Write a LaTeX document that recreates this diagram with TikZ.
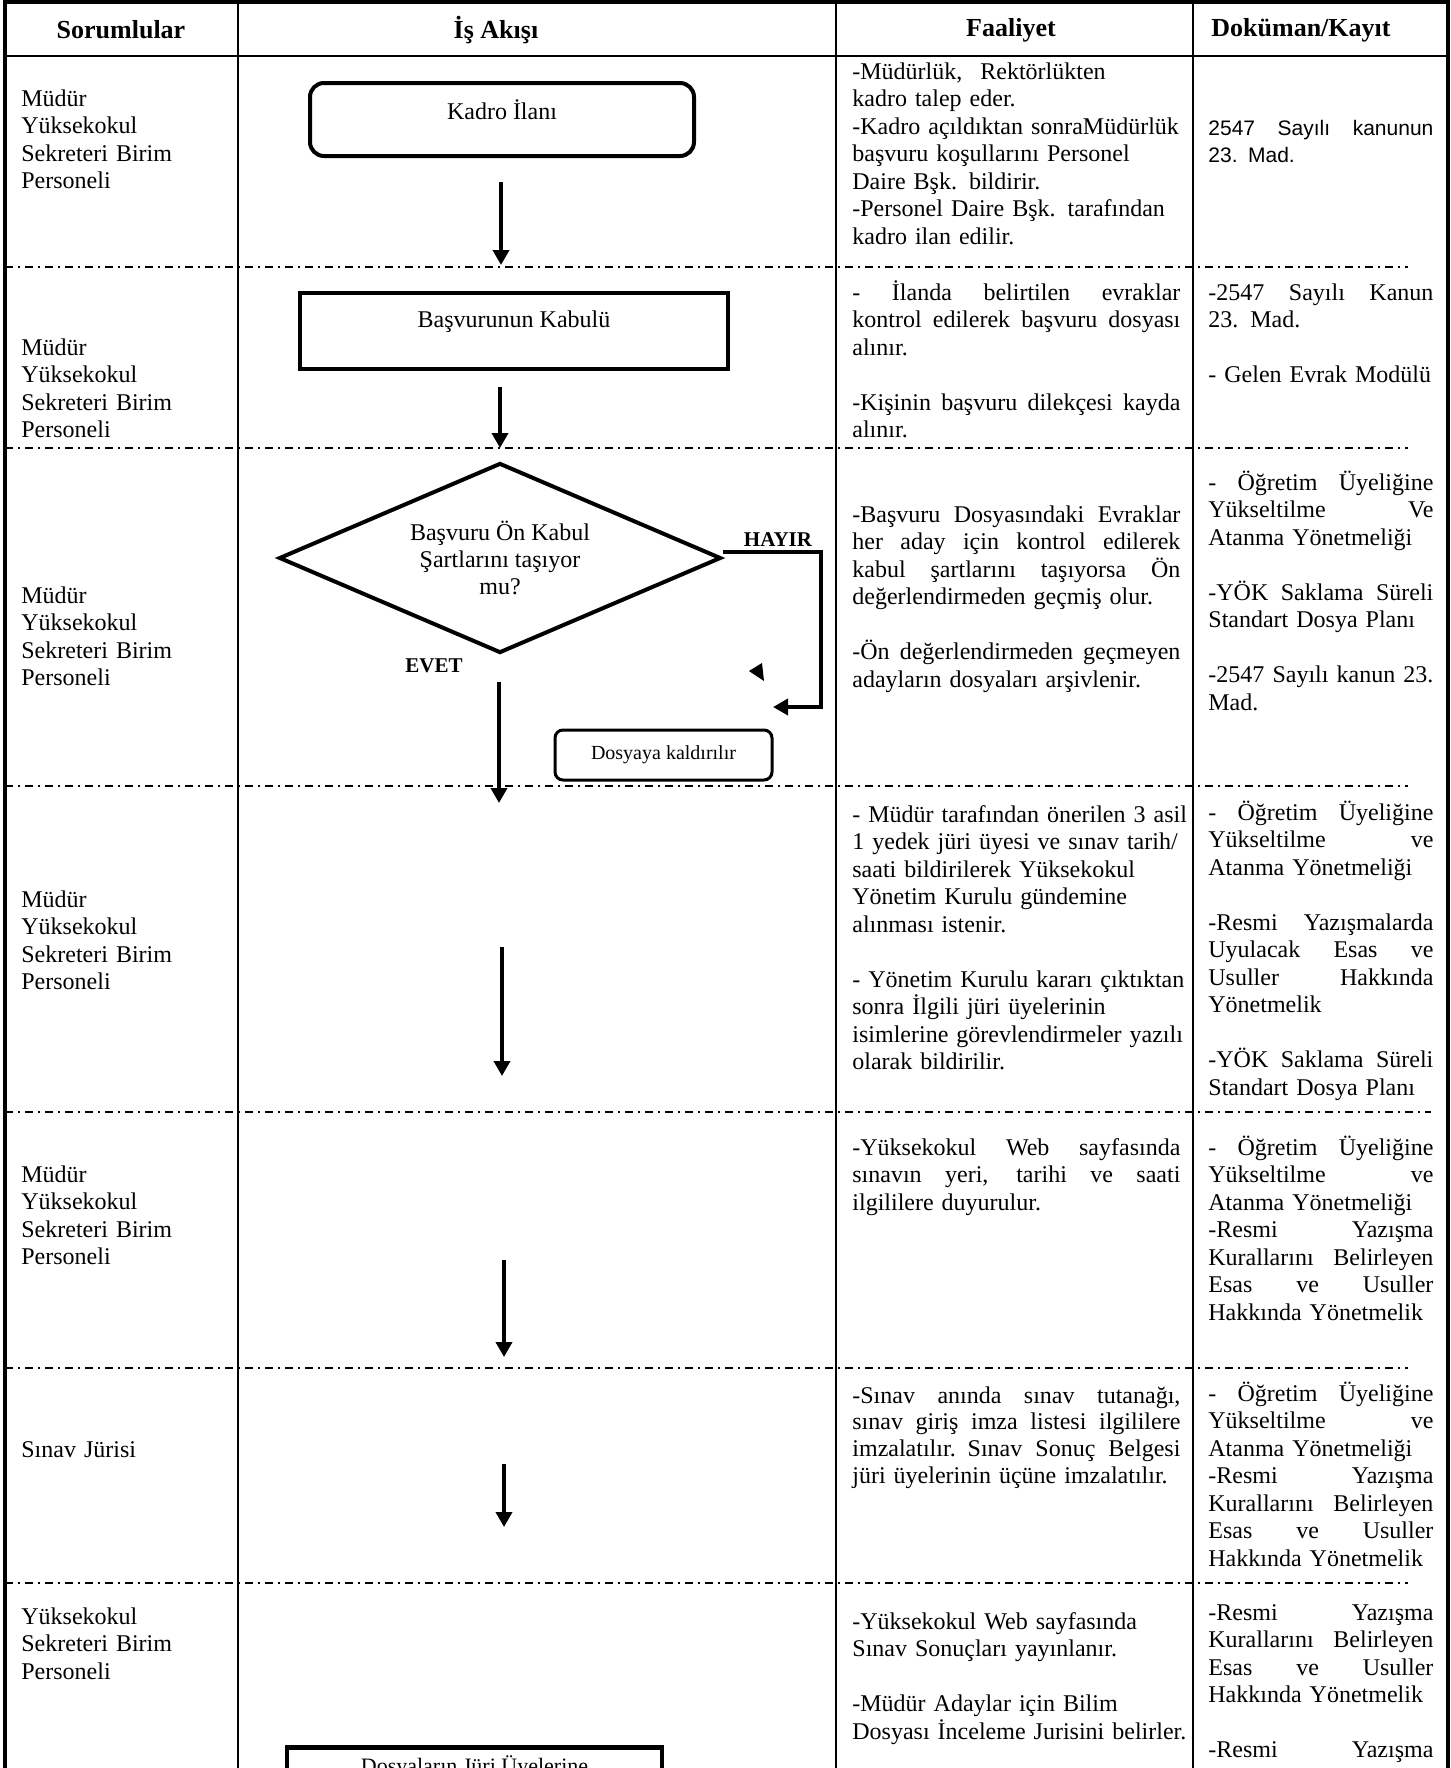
\documentclass[tikz,border=0pt]{standalone}
\usepackage{fontspec}
\setmainfont{Liberation Serif}
\newfontfamily\arialf{Liberation Sans}
\usetikzlibrary{shapes.geometric,arrows.meta}
\newcommand{\jf}[1]{\leavevmode\hbox to 164pt{\spaceskip=3pt plus 1fil\relax #1}}
\newcommand{\jd}[1]{\leavevmode\hbox to 112.5pt{\spaceskip=3pt plus 1fil\relax #1}}

\begin{document}
\begin{tikzpicture}[x=0.5pt,y=-0.5pt,
    cizgi/.style={line width=1pt},
    kenar/.style={line width=2pt},
    kesik/.style={line width=0.8pt,dash pattern=on 4pt off 2.5pt on 1pt off 2.5pt},
    ok/.style={line width=1.8pt,-{Triangle[length=7.5pt,width=8pt]}},
    baslik/.style={font=\fontsize{13}{15}\selectfont\bfseries},
    metin/.style={anchor=base west,inner sep=0pt,align=left,font=\fontsize{12}{13.75}\selectfont},
    sor/.style={metin,text width=105pt},
    faal/.style={metin,text width=200pt},
    dok/.style={metin,text width=130pt},
    kutu/.style={draw,line width=2pt,inner sep=0pt,font=\fontsize{12}{13.5}\selectfont},
    etiket/.style={font=\fontsize{10.5}{12}\selectfont\bfseries}]
        \useasboundingbox (0,0) rectangle (1451,1768);
        \clip (0,0) rectangle (1451,1768);

        % Tablo
        \draw[kenar] (5,1780) -- (5,2) -- (1448,2) -- (1448,1780);
        \draw[cizgi] (5,56) -- (1448,56);
        \foreach \x in {238,836,1193} \draw[cizgi] (\x,2) -- (\x,1780);
        \foreach \y in {267,448,786,1368,1583} \draw[kesik] (5,\y) -- (1408,\y);
        \draw[kesik] (5,1112) -- (1431,1112);

        \node[baslik] (h1) at (121,30) {Sorumlular};
        \node[baslik] (h2) at (496,30) {İş Akışı};
        \node[baslik] (h3) at (1011,30) {Faaliyet};
        \node[baslik] (h4) at (1301,30) {Doküman/Kayıt};

        % Sorumlular
        \node[sor] (s1) at (21,106) {Müdür\\Yüksekokul\\Sekreteri Birim\\Personeli};
        \node[sor] (s2) at (21,355) {Müdür\\Yüksekokul\\Sekreteri Birim\\Personeli};
        \node[sor] (s3) at (21,603) {Müdür\\Yüksekokul\\Sekreteri Birim\\Personeli};
        \node[sor] (s4) at (21,907) {Müdür\\Yüksekokul\\Sekreteri Birim\\Personeli};
        \node[sor] (s5) at (21,1182) {Müdür\\Yüksekokul\\Sekreteri Birim\\Personeli};
        \node[sor] (s6) at (21,1457) {Sınav Jürisi};
        \node[sor] (s7) at (21,1624) {Yüksekokul\\Sekreteri Birim\\Personeli};

        % Akış
        \node[kutu,rounded corners=7pt,minimum width=192pt,minimum height=36.5pt,
              text height=8pt,text depth=8pt] (kadro) at (502,119.5) {Kadro İlanı};
        \node[kutu,line width=2.2pt,minimum width=214pt,minimum height=38pt,
              text height=8pt,text depth=12pt] (kabul) at (514,331) {Başvurunun Kabulü};
        \node[kutu,diamond,aspect=2.33,minimum width=221pt,minimum height=95pt,
              align=center] (karar) at (500,558) {Başvuru Ön Kabul\\Şartlarını taşıyor\\mu?};
        \node[kutu,line width=1.5pt,rounded corners=4pt,minimum width=108.5pt,minimum height=25pt,
              font=\fontsize{10}{12}\selectfont] (dosya) at (663.5,755) {Dosyaya kaldırılır};
        \node[kutu,line width=2.4pt,minimum width=187.5pt,minimum height=20pt,anchor=north,
              font=\fontsize{11}{13}\selectfont] (juri) at (474.5,1745) {Dosyaların Jüri Üyelerine};

        \node[etiket] (hayir) at (778,540) {HAYIR};
        \node[etiket] (evet) at (434,666) {EVET};

        \coordinate (a1) at (501,182);
        \coordinate (b1) at (501,265);
        \coordinate (a2) at (500,387);
        \coordinate (b2) at (500,448);
        \coordinate (a3) at (499,682);
        \coordinate (b3) at (499,803);
        \coordinate (a4) at (502,947);
        \coordinate (b4) at (502,1076);
        \coordinate (a5) at (504,1260);
        \coordinate (b5) at (504,1357);
        \coordinate (a6) at (504,1464);
        \coordinate (b6) at (504,1527);
        \coordinate (hk) at (821,707);
        \coordinate (hu) at (773,707);

        \draw[ok] (a1) -- (b1);
        \draw[ok] (a2) -- (b2);
        \draw[ok] (a3) -- (b3);
        \draw[ok] (a4) -- (b4);
        \draw[ok] (a5) -- (b5);
        \draw[ok] (a6) -- (b6);
        \draw[ok] ([yshift=3pt]karar.east) -| (hk) -- (hu);
        \fill (749,671) -- (762,663) -- (764,681) -- cycle;

        % Faaliyet
        \node[faal] (f1) at (852,79) {-Müdürlük,\hspace{9pt}Rektörlükten\\kadro talep eder.\\-Kadro açıldıktan sonraMüdürlük\\başvuru koşullarını Personel\\Daire Bşk. bildirir.\\-Personel Daire Bşk. tarafından\\kadro ilan edilir.};
        \node[faal] (f2) at (852,300) {\jf{- İlanda belirtilen evraklar}\\\jf{kontrol edilerek başvuru dosyası}\\alınır.\\[13.75pt]\jf{-Kişinin başvuru dilekçesi kayda}\\alınır.};
        \node[faal] (f3) at (852,522) {\jf{-Başvuru Dosyasındaki Evraklar}\\\jf{her aday için kontrol edilerek}\\\jf{kabul şartlarını taşıyorsa Ön}\\değerlendirmeden geçmiş olur.\\[13.75pt]\jf{-Ön değerlendirmeden geçmeyen}\\adayların dosyaları arşivlenir.};
        \node[faal] (f4) at (852,822) {- Müdür tarafından önerilen 3 asil\\1 yedek jüri üyesi ve sınav tarih/\\saati bildirilerek Yüksekokul\\Yönetim Kurulu gündemine\\alınması istenir.\\[13.75pt]- Yönetim Kurulu kararı çıktıktan\\sonra İlgili jüri üyelerinin\\isimlerine görevlendirmeler yazılı\\olarak bildirilir.};
        \node[faal] (f5) at (852,1155) {\jf{-Yüksekokul Web sayfasında}\\\jf{sınavın yeri, tarihi ve saati}\\ilgililere duyurulur.};
        \node[faal,font=\fontsize{12}{13.4}\selectfont] (f6) at (852,1403) {\jf{-Sınav anında sınav tutanağı,}\\\jf{sınav giriş imza listesi ilgililere}\\\jf{imzalatılır. Sınav Sonuç Belgesi}\\jüri üyelerinin üçüne imzalatılır.};
        \node[faal] (f7) at (852,1629) {-Yüksekokul Web sayfasında\\Sınav Sonuçları yayınlanır.\\[13.75pt]-Müdür Adaylar için Bilim\\Dosyası İnceleme Jurisini belirler.};

        % Doküman/Kayıt
        \node[dok,font=\arialf\fontsize{10.5}{13.5}\selectfont] (d1) at (1208,135) {\jd{2547 Sayılı kanunun}\\23. Mad.};
        \node[dok] (d2) at (1208,300) {\jd{-2547 Sayılı Kanun}\\23. Mad.\\[13.75pt]- Gelen Evrak Modülü};
        \node[dok] (d3) at (1208,490) {\jd{- Öğretim Üyeliğine}\\\jd{Yükseltilme Ve}\\Atanma Yönetmeliği\\[13.75pt]\jd{-YÖK Saklama Süreli}\\Standart Dosya Planı\\[13.75pt]\jd{-2547 Sayılı kanun 23.}\\Mad.};
        \node[dok] (d4) at (1208,820) {\jd{- Öğretim Üyeliğine}\\\jd{Yükseltilme ve}\\Atanma Yönetmeliği\\[13.75pt]\jd{-Resmi Yazışmalarda}\\\jd{Uyulacak Esas ve}\\\jd{Usuller Hakkında}\\Yönetmelik\\[13.75pt]\jd{-YÖK Saklama Süreli}\\Standart Dosya Planı};
        \node[dok] (d5) at (1208,1155) {\jd{- Öğretim Üyeliğine}\\\jd{Yükseltilme ve}\\Atanma Yönetmeliği\\\jd{-Resmi Yazışma}\\\jd{Kurallarını Belirleyen}\\\jd{Esas ve Usuller}\\Hakkında Yönetmelik};
        \node[dok] (d6) at (1208,1401) {\jd{- Öğretim Üyeliğine}\\\jd{Yükseltilme ve}\\Atanma Yönetmeliği\\\jd{-Resmi Yazışma}\\\jd{Kurallarını Belirleyen}\\\jd{Esas ve Usuller}\\Hakkında Yönetmelik};
        \node[dok] (d7) at (1208,1620) {\jd{-Resmi Yazışma}\\\jd{Kurallarını Belirleyen}\\\jd{Esas ve Usuller}\\Hakkında Yönetmelik\\[13.75pt]\jd{-Resmi Yazışma}};
\end{tikzpicture}
\end{document}
